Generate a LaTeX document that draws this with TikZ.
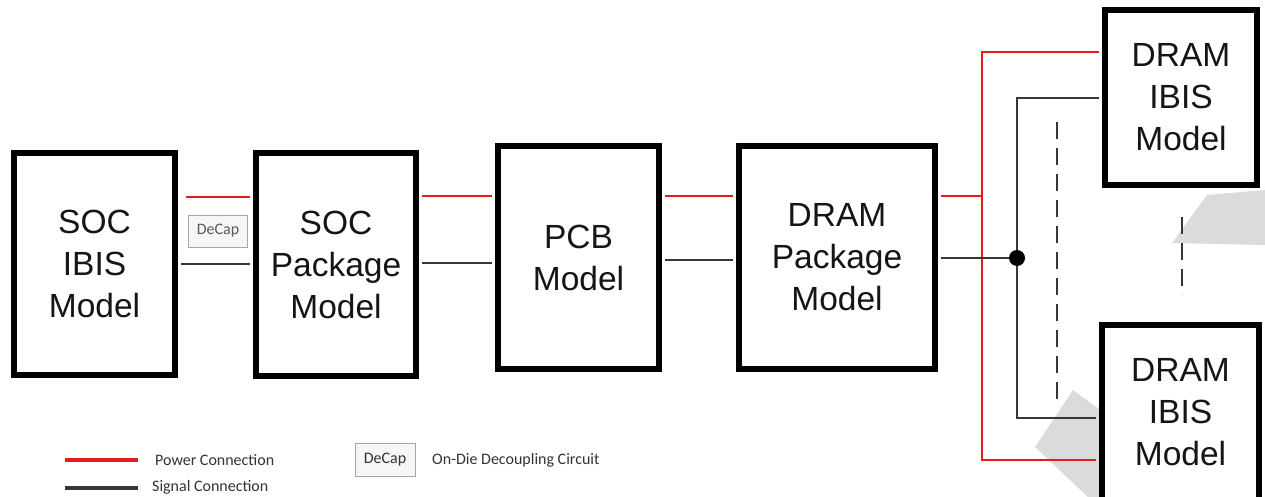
\documentclass[tikz,border=0pt]{standalone}
\usepackage{fontspec}
\setmainfont{Liberation Sans}
\newfontfamily\legfont{Carlito}
\definecolor{pwrred}{RGB}{228,28,28}
\definecolor{sigcol}{RGB}{55,55,55}
\definecolor{greyshape}{RGB}{218,219,221}
\definecolor{txt}{RGB}{20,20,25}
\begin{document}
\begin{tikzpicture}[x=1pt,y=-1pt,
 block/.style={draw=black,line width=6pt,fill=white,inner sep=0pt,align=center,
   font=\fontsize{33.5}{42}\selectfont,text=txt},
 pwr/.style={draw=pwrred,line width=2.8pt},
 sig/.style={draw=sigcol,line width=2pt},
 dashline/.style={draw=sigcol,line width=2.2pt,dash pattern=on 17pt off 9pt},
 decapbox/.style={draw=gray!70,fill=gray!7,line width=1pt,minimum width=59pt,minimum height=32pt,
   inner sep=0pt,font=\legfont\fontsize{16}{18}\selectfont,text=black!65},
 legtext/.style={font=\legfont\fontsize{16}{18}\selectfont,text=black!80,anchor=west,inner sep=0pt}]
\useasboundingbox[fill=white] (0,0) rectangle (1265,497);
\clip (0,0) rectangle (1265,497);

% grey background shapes
\fill[greyshape] (1172,243) -- (1207,195) -- (1265,190) -- (1265,245) -- cycle;
\fill[greyshape] (1035,447) -- (1073,390) -- (1103,412) -- (1103,497) -- (1088,497) -- cycle;

% blocks
\node[block,minimum width=161pt,minimum height=222pt] (soc) at (94.5,264) {SOC\\IBIS\\Model};
\node[block,minimum width=160pt,minimum height=223pt] (socpkg) at (336,264.5) {SOC\\Package\\Model};
\node[block,minimum width=161pt,minimum height=223pt] (pcb) at (578.5,257.5) {PCB\\Model};
\node[block,minimum width=196pt,minimum height=223pt] (drampkg) at (837,257.5) {DRAM\\Package\\Model};
\node[block,minimum width=152pt,minimum height=175pt] (dramA) at (1181,97.5) {DRAM\\IBIS\\Model};
\node[block,minimum width=157pt,minimum height=175pt] (dramB) at (1180.5,412.5) {DRAM\\IBIS\\Model};

\node[decapbox] (decap) at (218,231) {DeCap};

% power connections
\draw[pwr,shorten <=8pt,shorten >=3pt] (soc.east |- {0,197}) -- (socpkg.west |- {0,197});
\draw[pwr,shorten <=3pt,shorten >=3pt] (socpkg.east |- {0,196}) -- (pcb.west |- {0,196});
\draw[pwr,shorten <=3pt,shorten >=3pt] (pcb.east |- {0,196}) -- (drampkg.west |- {0,196});
\coordinate (pbus) at (982,196);
\draw[pwr,shorten <=3pt] (drampkg.east |- pbus) -- (pbus);
\draw[pwr,shorten <=3pt,shorten >=3pt] (dramA.west |- {0,52}) -| (pbus) |- (dramB.west |- {0,460});

% signal connections
\coordinate (dotc) at (1017,258);
\draw[sig,shorten <=3pt,shorten >=3pt] (soc.east |- {0,264}) -- (socpkg.west |- {0,264});
\draw[sig,shorten <=3pt,shorten >=3pt] (socpkg.east |- {0,263}) -- (pcb.west |- {0,263});
\draw[sig,shorten <=3pt,shorten >=3pt] (pcb.east |- {0,260}) -- (drampkg.west |- {0,260});
\draw[sig,shorten <=3pt] (drampkg.east |- dotc) -- (dotc);
\draw[sig,shorten <=3pt,shorten >=3pt] (dramA.west |- {0,98}) -| (dotc) |- (dramB.west |- {0,418});
\fill[black] (dotc) circle[radius=8];
\node[inner sep=0pt,minimum size=0pt] (dot) at (dotc) {};

% dashed continuation marks
\coordinate (da1) at (1057,122);
\coordinate (da2) at (1057,402);
\draw[dashline] (da1) -- (da2);
\coordinate (db1) at (1182,217);
\coordinate (db2) at (1182,295);
\draw[dashline] (db1) -- (db2);

% legend
\coordinate (lp1) at (65,460);
\coordinate (lp2) at (138,460);
\draw[pwrred,line width=3.5pt] (lp1) -- (lp2);
\node[legtext] (lpt) at (155,460) {Power Connection};
\coordinate (ls1) at (65,488);
\coordinate (ls2) at (138,488);
\draw[sigcol,line width=3.5pt] (ls1) -- (ls2);
\node[legtext] (lst) at (152,487) {Signal Connection};
\node[decapbox,minimum width=60pt,minimum height=33pt,text=black!80] (ldecap) at (385,459.5) {DeCap};
\node[legtext] (ldt) at (432,460) {On-Die Decoupling Circuit};
\end{tikzpicture}
\end{document}
